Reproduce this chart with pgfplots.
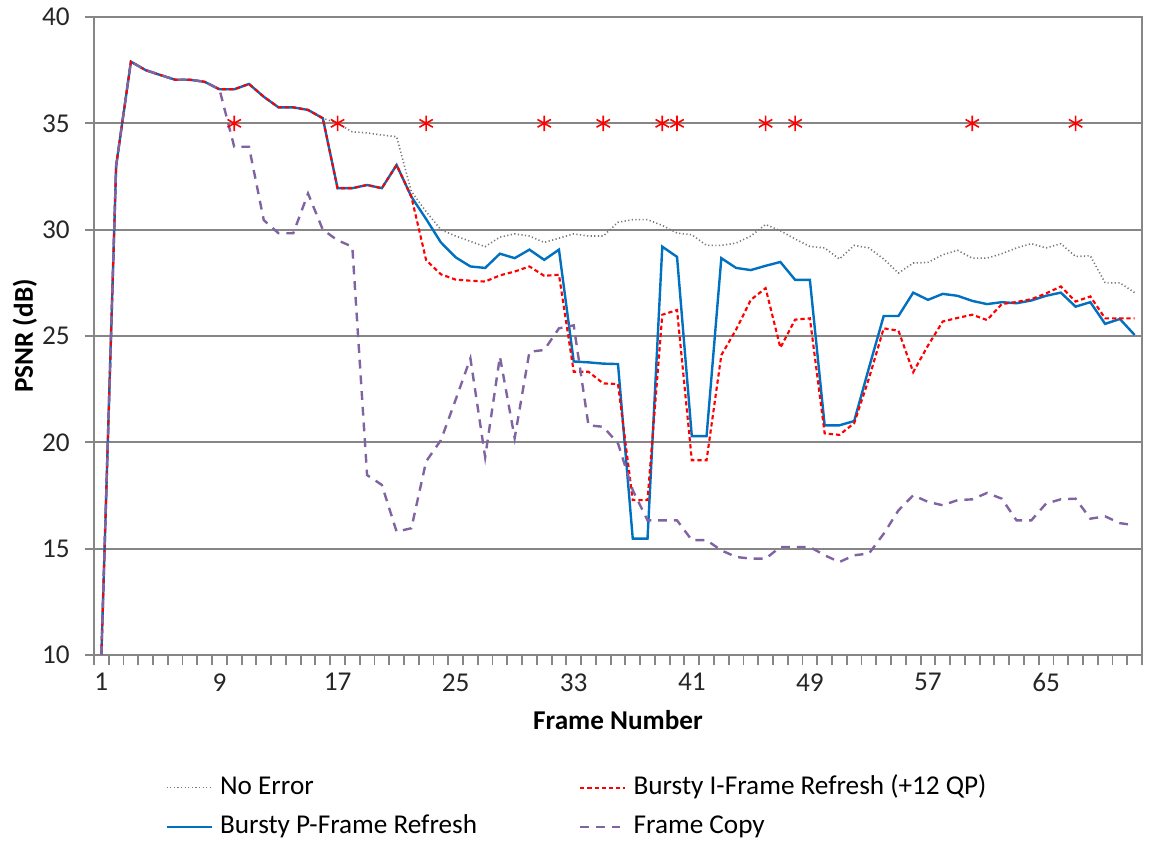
\documentclass[border=0pt]{standalone}
\usepackage{pgfplots}
\pgfplotsset{compat=1.18}
\usepackage{pgfplotstable}
\usepackage{fontspec}
\setmainfont{Carlito}
\definecolor{gridc}{RGB}{134,134,134}
\definecolor{noerr}{RGB}{120,120,120}
\definecolor{ired}{RGB}{255,0,0}
\definecolor{pblue}{RGB}{0,112,192}
\definecolor{fcopy}{RGB}{128,100,162}

\pgfplotstableread{
f grey red blue purple
1 10 10 10 10
2 33.0 33.0 33.0 33.0
3 37.9 37.9 37.9 37.9
4 37.5 37.5 37.5 37.5
5 37.27 37.27 37.27 37.27
6 37.05 37.05 37.05 37.05
7 37.05 37.05 37.05 37.05
8 36.95 36.95 36.95 36.95
9 36.6 36.6 36.6 36.6
10 36.6 36.6 36.6 33.9
11 36.85 36.85 36.85 33.9
12 36.25 36.25 36.25 30.45
13 35.75 35.75 35.75 29.83
14 35.75 35.75 35.75 29.83
15 35.63 35.63 35.63 31.7
16 35.24 35.24 35.24 30.0
17 35.0 31.95 31.95 29.5
18 34.6 31.95 31.95 29.2
19 34.55 32.1 32.1 18.46
20 34.45 31.95 31.95 18.0
21 34.37 33.04 33.04 15.8
22 31.8 31.55 31.55 15.96
23 30.85 28.57 30.5 19.1
24 30.0 27.9 29.4 20.1
25 29.7 27.65 28.7 22.0
26 29.45 27.6 28.27 23.95
27 29.2 27.56 28.2 19.3
28 29.65 27.85 28.87 24.03
29 29.8 28.03 28.66 20.2
30 29.7 28.27 29.06 24.26
31 29.4 27.83 28.58 24.34
32 29.6 27.88 29.06 25.36
33 29.8 23.32 23.8 25.5
34 29.7 23.32 23.76 20.8
35 29.7 22.77 23.7 20.73
36 30.35 22.74 23.68 19.95
37 30.47 17.28 15.47 17.75
38 30.47 17.28 15.47 16.33
39 30.2 26.0 29.2 16.33
40 29.84 26.22 28.72 16.33
41 29.76 19.16 20.29 15.4
42 29.26 19.16 20.29 15.4
43 29.26 24.1 28.66 14.92
44 29.37 25.3 28.2 14.61
45 29.7 26.7 28.1 14.53
46 30.24 27.25 28.3 14.53
47 29.95 24.45 28.48 15.08
48 29.56 25.77 27.64 15.08
49 29.21 25.83 27.64 15.08
50 29.14 20.42 20.8 14.69
51 28.62 20.35 20.8 14.37
52 29.26 20.9 21.0 14.69
53 29.14 23.0 23.5 14.77
54 28.62 25.36 25.94 15.7
55 27.96 25.25 25.94 16.8
56 28.43 23.3 27.04 17.51
57 28.46 24.55 26.7 17.2
58 28.82 25.68 26.98 17.04
59 29.03 25.85 26.89 17.28
60 28.66 26.0 26.65 17.32
61 28.66 25.75 26.5 17.62
62 28.87 26.5 26.59 17.35
63 29.14 26.6 26.54 16.33
64 29.34 26.73 26.67 16.33
65 29.14 27.0 26.89 17.12
66 29.34 27.33 27.04 17.32
67 28.74 26.62 26.38 17.35
68 28.77 26.86 26.59 16.41
69 27.5 25.83 25.57 16.52
70 27.5 25.83 25.8 16.2
71 27.04 25.83 25.05 16.1
}\psnr

\pgfplotstableread{
f s
10 35
17 35
23 35
31 35
35 35
39 35
40 35
46 35
48 35
60 35
67 35
}\stars

\begin{document}
\begin{tikzpicture}
\begin{axis}[
  scale only axis,
  width=393pt, height=239.25pt,
  xmin=0.5, xmax=71.5,
  ymin=10, ymax=40,
  xtick={1,9,17,25,33,41,49,57,65},
  xticklabels={1,9,17,25,33,41,49,57,65},
  minor xtick={0.5,1.5,...,71.5},
  ytick={10,15,20,25,30,35,40},
  yticklabels={10,15,20,25,30,35,40},
  major x tick style={draw=none},
  tick align=outside,
  major tick length=3.4pt,
  minor tick length=3.6pt,
  tick style={gridc, line width=0.7pt},
  xtick pos=bottom, ytick pos=left,
  ymajorgrids,
  major grid style={gridc, line width=0.75pt},
  axis line style={gridc, line width=0.75pt},
  tick label style={font=\fontsize{10.2}{12}\selectfont, text=black!85},
  yticklabel style={xshift=-2.2pt},
  xticklabel style={yshift=0pt},
  xlabel={\textbf{Frame Number}},
  ylabel={\textbf{PSNR (dB)}},
  label style={font=\fontsize{10.2}{12}\selectfont},
  xlabel style={at={(axis description cs:0.5,-0.102)}, anchor=center},
  ylabel style={at={(axis description cs:-0.0659,0.5)}, anchor=center},
  legend columns=2,
  legend cell align=left,
  legend style={draw=none, fill=none, inner sep=0pt,
    at={(axis description cs:0.0677,-0.1875)}, anchor=north west,
    font=\fontsize{10.2}{12}\selectfont,
    nodes={inner xsep=2.6pt, inner ysep=0pt, text height=7.2pt, text depth=2.2pt},
    row sep=5.3pt,
    /tikz/every even column/.append style={column sep=35.6pt}},
  legend image code/.code={\draw[#1] (0pt,0pt) -- (17pt,0pt);},
]
\addlegendimage{noerr, line width=0.6pt, dash pattern=on 0.45pt off 0.9pt}
\addlegendentry{No Error}
\addlegendimage{ired, line width=0.8pt, dash pattern=on 1.6pt off 1.1pt}
\addlegendentry{Bursty I-Frame Refresh (+12 QP)}
\addlegendimage{pblue, line width=0.9pt}
\addlegendentry{Bursty P-Frame Refresh}
\addlegendimage{fcopy, line width=0.9pt, dash pattern=on 3.3pt off 2.6pt}
\addlegendentry{Frame Copy}

\addplot[forget plot, noerr, line width=0.6pt, dash pattern=on 0.45pt off 0.9pt] table[x=f, y=grey] {\psnr};
\addplot[forget plot, pblue, line width=0.9pt] table[x=f, y=blue] {\psnr};
\addplot[forget plot, ired, line width=0.8pt, dash pattern=on 1.6pt off 1.1pt] table[x=f, y=red] {\psnr};
\addplot[forget plot, fcopy, line width=0.9pt, dash pattern=on 3.3pt off 2.6pt] table[x=f, y=purple] {\psnr};
\addplot[forget plot, only marks, mark=asterisk, mark size=2.9pt, ired, mark options={line width=0.6pt}] table[x=f, y=s] {\stars};

\coordinate (A) at (rel axis cs:0,0);
\coordinate (B) at (rel axis cs:1,1);
\end{axis}
\pgfresetboundingbox
\path ([shift={(-35.25pt,-69.75pt)}]A) rectangle ([shift={(3.75pt,6.375pt)}]B);
\end{tikzpicture}
\end{document}
